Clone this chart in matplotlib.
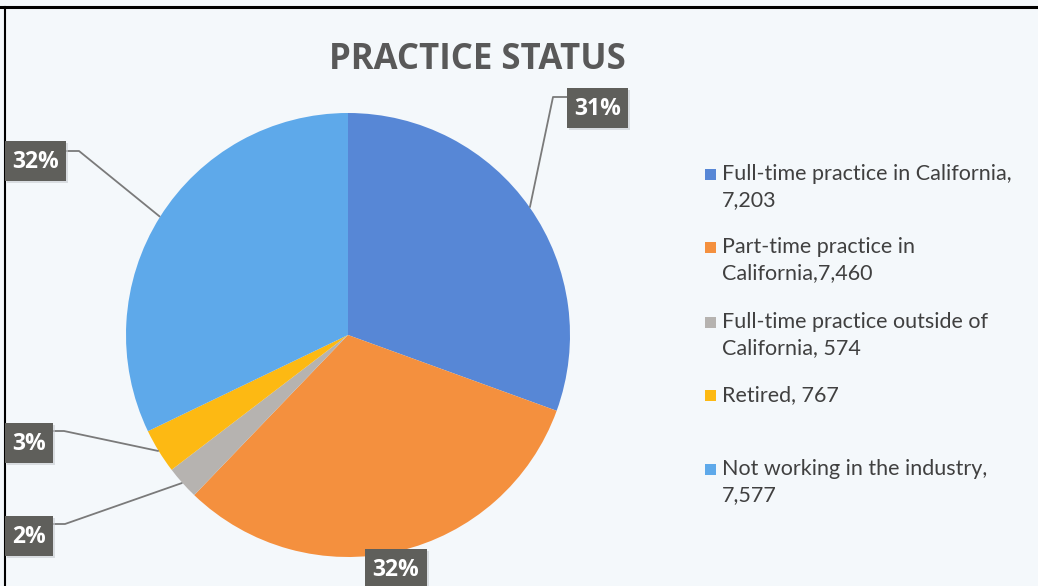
import matplotlib
matplotlib.use("Agg")
import matplotlib.pyplot as plt
from matplotlib.patches import Rectangle
import numpy as np

# ---------------- data ----------------
categories = [
    "Full-time practice in California,\n7,203",
    "Part-time practice in\nCalifornia,7,460",
    "Full-time practice outside of\nCalifornia, 574",
    "Retired, 767",
    "Not working in the industry,\n7,577",
]
values = [7203, 7460, 574, 767, 7577]
colors = ["#5787d6", "#f4903e", "#b6b3b0", "#fdb913", "#5ea9ea"]
title = "PRACTICE STATUS"

W, H = 1038, 586
fig = plt.figure(figsize=(W / 100, H / 100), dpi=100)
fig.patch.set_facecolor("#f4f8fb")
ax = fig.add_axes([0, 0, 1, 1])
ax.patch.set_visible(False)


def py(y):  # convert pixel-from-top to data y
    return H - y


cx, cy, r = 348, py(335), 222
wedges, _ = ax.pie(values, colors=colors, startangle=90, counterclock=False,
                   center=(cx, cy), radius=r, frame=False,
                   wedgeprops=dict(linewidth=0))
ax.set_xlim(0, W)
ax.set_ylim(0, H)
ax.set_aspect("equal")
ax.axis("off")

total = sum(values)
pcts = [round(v / total * 100) for v in values]

# label boxes (layout): box left, top, width, height in pixels; elbow points
boxes = [
    (567, 88, 61, 40, [(553, 97), (567, 97)]),
    (365, 549, 62, 45, None),
    (5, 516, 48, 40, [(65, 524), (53, 524)]),
    (5, 423, 48, 40, [(64, 431), (53, 431)]),
    (5, 141, 61, 40, [(79, 151), (66, 151)]),
]
fonts_lbl = ["Open Sans", "DejaVu Sans"]
cum = 0
for i, (v, p) in enumerate(zip(values, pcts)):
    mid = cum + v / 2
    cum += v
    ang = np.deg2rad(90 - mid / total * 360)
    ex, ey = cx + r * np.cos(ang), cy + r * np.sin(ang)
    bx, by, bw, bh, elbow = boxes[i]
    if elbow is not None:
        xs = [ex] + [e[0] for e in elbow]
        ys = [ey] + [py(e[1]) for e in elbow]
        ax.plot(xs, ys, color="#7a7a7a", lw=1.3, zorder=3, solid_capstyle="butt")
    ax.add_patch(Rectangle((bx + 2, py(by + bh) - 2), bw, bh, facecolor="#c8ccd0",
                           edgecolor="none", zorder=4, alpha=0.6))
    ax.add_patch(Rectangle((bx, py(by + bh)), bw, bh, facecolor="#5f5f5b",
                           edgecolor="none", zorder=5))
    ty = by + min(bh, 40) / 2 + 1
    ax.text(bx + bw / 2, py(ty), f"{p}%", color="white", fontsize=16.5,
            fontweight="bold", ha="center", va="center", family=fonts_lbl, zorder=6)

# title
ax.text(477, py(60), title, fontsize=25, fontweight="bold", color="#595959",
        ha="center", va="center", family=["Open Sans", "DejaVu Sans"])

# legend (manual)
leg_y = [175, 248, 323, 396, 470]
for lab, c, y in zip(categories, colors, leg_y):
    ax.add_patch(Rectangle((705, py(y + 5)), 11, 11, facecolor=c, edgecolor="none"))
    ax.text(722, py(y - 11), lab, fontsize=15.5, color="#404040", ha="left", va="top",
            linespacing=1.4, family=["Lato", "DejaVu Sans"])

# frame lines (top and left)
ax.plot([0, W], [py(7), py(7)], color="black", lw=2.2)
ax.plot([5, 5], [py(7), 0], color="black", lw=1.5)

fig.savefig("out.png", dpi=100, facecolor=fig.get_facecolor())
